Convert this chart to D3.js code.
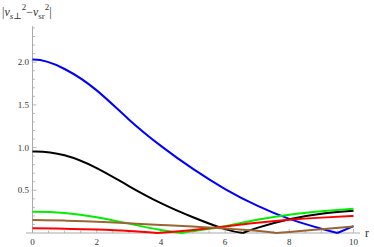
<!DOCTYPE html>
<html>
<head>
<meta charset="utf-8">
<script src="https://cdn.jsdelivr.net/npm/d3@7"></script>
<style>
  body { margin: 0; background: #fff; }
  svg { display: block; }
  text { font-family: "Liberation Serif", "DejaVu Serif", serif; fill: #333; }
</style>
</head>
<body>
<svg width="374" height="247"></svg>
<script>
// values of |v_s⊥^2 - v_sr^2| read at r = 0..10
var r = [0, 1, 2, 3, 4, 5, 6, 7, 8, 9, 10];

var blue  = [2.03, 1.92, 1.67, 1.33, 1.02, 0.75, 0.515, 0.32, 0.165, 0.05, 0.08];
var black = [0.955, 0.91, 0.76, 0.55, 0.35, 0.185, 0.045, 0.06, 0.16, 0.225, 0.26];
var green = [0.25, 0.235, 0.185, 0.11, 0.035, 0.022, 0.08, 0.155, 0.215, 0.255, 0.285];
var red   = [0.055, 0.05, 0.04, 0.024, 0.003, 0.035, 0.075, 0.12, 0.155, 0.18, 0.20];
var brown = [0.152, 0.145, 0.133, 0.114, 0.095, 0.075, 0.053, 0.025, 0.012, 0.045, 0.075];

// where each curve touches zero (the kink of the absolute value)
var zeros = { blue: 9.5, black: 6.55, green: 4.65, red: 3.9, brown: 7.6 };

var xTicks = [0, 2, 4, 6, 8, 10];
var yTicks = [0.5, 1.0, 1.5, 2.0];

var svg = d3.select('svg');

var x = d3.scaleLinear().domain([0, 10]).range([32.5, 353.5]);
var y = d3.scaleLinear().domain([0, 2.4]).range([233, 28]);

svg.append('clipPath').attr('id', 'plot')
    .append('rect')
    .attr('x', x(0)).attr('y', 0)
    .attr('width', 374 - x(0)).attr('height', 247);

// axes
var axisColor = '#aaa';
svg.append('line')
    .attr('x1', x(-0.2)).attr('x2', x(10.2))
    .attr('y1', y(0)).attr('y2', y(0))
    .style('stroke', axisColor);
svg.append('line')
    .attr('x1', x(0)).attr('x2', x(0))
    .attr('y1', y(0)).attr('y2', y(2.42))
    .style('stroke', axisColor);

// x ticks, pointing up
d3.range(0, 10.01, 0.5).forEach(function(t) {
    var major = Math.abs(t % 2) < 1e-9;
    svg.append('line')
        .attr('x1', x(t)).attr('x2', x(t))
        .attr('y1', y(0)).attr('y2', y(0) - (major ? 4 : 2.5))
        .style('stroke', axisColor).style('stroke-width', 0.8);
});
svg.selectAll('.xlab').data(xTicks).enter().append('text')
    .attr('class', 'xlab')
    .attr('x', function(d) { return x(d); })
    .attr('y', 245)
    .attr('text-anchor', 'middle')
    .style('font-size', '9px')
    .text(function(d) { return d; });

// y ticks, pointing right
d3.range(0.1, 2.41, 0.1).forEach(function(t) {
    var major = Math.abs(Math.round(t * 10) % 5) === 0;
    svg.append('line')
        .attr('x1', x(0)).attr('x2', x(0) + (major ? 4 : 2.5))
        .attr('y1', y(t)).attr('y2', y(t))
        .style('stroke', axisColor).style('stroke-width', 0.8);
});
svg.selectAll('.ylab').data(yTicks).enter().append('text')
    .attr('class', 'ylab')
    .attr('x', 29)
    .attr('y', function(d) { return y(d) + 3; })
    .attr('text-anchor', 'end')
    .style('font-size', '9px')
    .text(function(d) { return d.toFixed(1); });

// axis labels
svg.append('text')
    .attr('x', 365).attr('y', 237)
    .style('font-size', '12px')
    .text('r');

var title = svg.append('text').attr('x', 2).attr('y', 16).style('font-size', '12px');
title.append('tspan').text('|');
title.append('tspan').style('font-style', 'italic').text('v');
title.append('tspan').attr('dy', 3).style('font-size', '9px').style('font-style', 'italic').text('s');
title.append('tspan').style('font-size', '9px').text('\u22a5');
title.append('tspan').attr('dy', -9).style('font-size', '9px').text('2');
title.append('tspan').attr('dy', 6).text('\u2212');
title.append('tspan').style('font-style', 'italic').text('v');
title.append('tspan').attr('dy', 3).style('font-size', '9px').text('sr');
title.append('tspan').attr('dy', -9).style('font-size', '9px').text('2');
title.append('tspan').attr('dy', 6).text('|');

// curves
var line = d3.line()
    .x(function(d) { return x(d[0]); })
    .y(function(d) { return y(d[1]); })
    .curve(d3.curveNatural);

function curvePath(vals, z) {
    var pts = r.map(function(t, i) { return [t, vals[i]]; });
    var left = pts.filter(function(p) { return p[0] < z; });
    var right = pts.filter(function(p) { return p[0] > z; });
    // curves are even in r, mirror one point so the start is flat
    left.unshift([-r[1], vals[1]]);
    left.push([z, 0]);
    right.unshift([z, 0]);
    return line(left) + line(right);
}

var series = [
    { name: 'blue', vals: blue, color: '#0000ff' },
    { name: 'black', vals: black, color: '#000000' },
    { name: 'green', vals: green, color: '#00ee00' },
    { name: 'red', vals: red, color: '#ff0000' },
    { name: 'brown', vals: brown, color: '#996633' }
];

svg.append('g').attr('clip-path', 'url(#plot)')
    .selectAll('.curve').data(series).enter().append('path')
    .attr('class', 'curve')
    .attr('d', function(d) { return curvePath(d.vals, zeros[d.name]); })
    .style('fill', 'none')
    .style('stroke', function(d) { return d.color; })
    .style('stroke-width', 2);
</script>
</body>
</html>
